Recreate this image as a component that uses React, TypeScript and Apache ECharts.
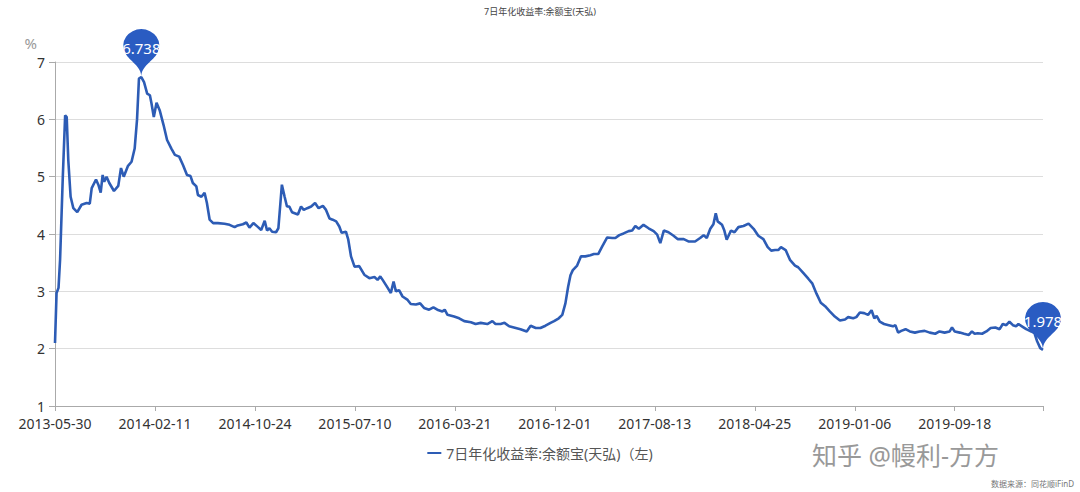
import React, { useEffect, useRef } from "react";
import * as echarts from "echarts";

// Tick labels every 256 trading-day units from 2013-05-30
const tickLabels = [
  "2013-05-30", "2014-02-11", "2014-10-24", "2015-07-10", "2016-03-21",
  "2016-12-01", "2017-08-13", "2018-04-25", "2019-01-06", "2019-09-18",
];
const TICK_STEP = 256;
const X_MAX = 2530;

const seriesName = "7日年化收益率:余额宝(天弘)（左)";
const titleText = "7日年化收益率:余额宝(天弘)";

// day index (axis units)
const dayIndex = [
  0, 4, 9, 13, 20, 26, 30, 34, 40, 47, 57, 68, 81, 89, 94, 105, 111, 117, 122, 126,
  132, 139, 151, 162, 169, 176, 187, 196, 204, 210, 215, 221, 228, 236, 243, 247, 253, 260, 268, 278,
  287, 298, 307, 318, 328, 338, 347, 353, 362, 366, 375, 383, 389, 396, 405, 417, 434, 447, 460, 468,
  481, 490, 498, 508, 520, 528, 537, 543, 549, 556, 566, 572, 581, 588, 594, 600, 607, 622, 630, 637,
  646, 656, 666, 675, 686, 694, 703, 711, 720, 728, 734, 745, 751, 758, 767, 779, 792, 805, 818, 826,
  833, 839, 852, 860, 867, 873, 881, 890, 903, 911, 924, 935, 945, 958, 969, 979, 992, 998, 1005, 1022,
  1035, 1048, 1065, 1077, 1090, 1107, 1120, 1128, 1141, 1151, 1163, 1175, 1192, 1208, 1218, 1231, 1243, 1256, 1269, 1278,
  1290, 1299, 1307, 1314, 1320, 1326, 1337, 1347, 1358, 1371, 1380, 1391, 1401, 1414, 1427, 1435, 1445, 1456, 1469, 1478,
  1486, 1495, 1507, 1520, 1533, 1542, 1550, 1559, 1571, 1584, 1595, 1610, 1622, 1639, 1652, 1661, 1669, 1678, 1686, 1692,
  1697, 1708, 1714, 1720, 1731, 1740, 1750, 1763, 1776, 1789, 1801, 1814, 1825, 1834, 1844, 1852, 1859, 1871, 1882, 1895,
  1903, 1916, 1929, 1939, 1950, 1961, 1972, 1984, 1997, 2010, 2023, 2031, 2044, 2052, 2061, 2072, 2082, 2091, 2098, 2104,
  2112, 2123, 2135, 2146, 2152, 2159, 2167, 2178, 2189, 2202, 2214, 2227, 2240, 2254, 2265, 2278, 2291, 2297, 2304, 2317,
  2328, 2340, 2348, 2355, 2363, 2374, 2385, 2396, 2408, 2419, 2427, 2436, 2444, 2453, 2461, 2467, 2476, 2487, 2500, 2508,
  2515, 2523, 2530,
];

// 7-day annualised yield (%)
const yieldValues = [
  2.10, 2.97, 3.06, 3.55, 5.00, 6.07, 6.04, 5.29, 4.65, 4.45, 4.38, 4.51, 4.54, 4.53, 4.80, 4.95, 4.86, 4.72, 5.03, 4.91,
  5.00, 4.89, 4.75, 4.84, 5.15, 5.00, 5.19, 5.26, 5.49, 5.99, 6.71, 6.738, 6.65, 6.45, 6.42, 6.28, 6.04, 6.29, 6.16, 5.90,
  5.64, 5.49, 5.38, 5.35, 5.20, 5.03, 5.01, 4.89, 4.83, 4.68, 4.65, 4.72, 4.54, 4.25, 4.19, 4.19, 4.18, 4.16, 4.12, 4.15,
  4.17, 4.20, 4.11, 4.19, 4.12, 4.07, 4.23, 4.06, 4.10, 4.04, 4.03, 4.10, 4.86, 4.65, 4.48, 4.48, 4.38, 4.34, 4.48, 4.42,
  4.45, 4.48, 4.54, 4.45, 4.49, 4.42, 4.27, 4.25, 4.22, 4.13, 4.02, 4.04, 3.90, 3.61, 3.43, 3.44, 3.29, 3.23, 3.25, 3.20,
  3.26, 3.20, 3.06, 2.97, 3.17, 3.00, 3.02, 2.91, 2.85, 2.78, 2.77, 2.79, 2.71, 2.68, 2.72, 2.68, 2.65, 2.68, 2.59, 2.56,
  2.53, 2.48, 2.46, 2.43, 2.45, 2.43, 2.48, 2.43, 2.43, 2.45, 2.39, 2.37, 2.34, 2.30, 2.40, 2.36, 2.36, 2.40, 2.45, 2.48,
  2.53, 2.59, 2.79, 3.08, 3.28, 3.37, 3.45, 3.61, 3.61, 3.63, 3.65, 3.65, 3.78, 3.94, 3.93, 3.93, 3.98, 4.01, 4.05, 4.06,
  4.14, 4.09, 4.16, 4.10, 4.05, 3.99, 3.84, 4.06, 4.03, 3.97, 3.91, 3.91, 3.87, 3.87, 3.93, 3.98, 3.93, 4.09, 4.17, 4.36,
  4.22, 4.16, 4.06, 3.90, 4.06, 4.03, 4.12, 4.14, 4.18, 4.09, 3.97, 3.91, 3.77, 3.71, 3.72, 3.72, 3.77, 3.72, 3.55, 3.45,
  3.42, 3.32, 3.22, 3.14, 2.96, 2.80, 2.74, 2.65, 2.56, 2.49, 2.51, 2.55, 2.53, 2.55, 2.63, 2.62, 2.59, 2.67, 2.53, 2.57,
  2.47, 2.43, 2.41, 2.39, 2.41, 2.28, 2.31, 2.34, 2.30, 2.28, 2.30, 2.31, 2.28, 2.26, 2.30, 2.28, 2.30, 2.37, 2.30, 2.28,
  2.26, 2.24, 2.30, 2.26, 2.27, 2.26, 2.30, 2.36, 2.37, 2.34, 2.43, 2.41, 2.47, 2.41, 2.39, 2.43, 2.39, 2.34, 2.30, 2.27,
  2.13, 2.01, 1.978,
];

const FONT = "'Noto Sans', 'Noto Sans CJK SC', sans-serif";

export default function App() {
  const ref = useRef<HTMLDivElement>(null);

  useEffect(() => {
    if (!ref.current) return;
    const chart = echarts.init(ref.current, undefined, { renderer: "svg" });
    const data = dayIndex.map((d, i) => [d, yieldValues[i]]);
    chart.setOption({
      animation: false,
      backgroundColor: "#ffffff",
      textStyle: { fontFamily: FONT },
      title: {
        text: titleText,
        left: "center",
        top: 2,
        textStyle: { fontSize: 9, fontWeight: "normal", color: "#444", fontFamily: FONT },
      },
      grid: { left: 55, right: 37, top: 62, bottom: 86 },
      legend: {
        data: [seriesName],
        top: 441,
        left: "center",
        icon: "rect",
        itemWidth: 14,
        itemHeight: 2,
        textStyle: { fontSize: 14, color: "#555", fontFamily: FONT },
      },
      xAxis: {
        type: "value",
        min: 0,
        max: X_MAX,
        interval: TICK_STEP,
        splitLine: { show: false },
        axisLine: { lineStyle: { color: "#aaa" } },
        axisTick: { show: true, length: 5, lineStyle: { color: "#aaa" } },
        axisLabel: {
          fontSize: 14,
          color: "#333",
          margin: 10,
          formatter: (v: number) =>
            v % TICK_STEP === 0 && tickLabels[v / TICK_STEP] ? tickLabels[v / TICK_STEP] : "",
        },
      },
      yAxis: {
        type: "value",
        min: 1,
        max: 7,
        interval: 1,
        name: "%",
        nameLocation: "end",
        nameGap: 12,
        nameTextStyle: { color: "#999", fontSize: 15, align: "right", padding: [0, 18, 0, 0] },
        axisLine: { show: true, lineStyle: { color: "#aaa" } },
        axisTick: { show: true, length: 6, lineStyle: { color: "#aaa" } },
        axisLabel: { fontSize: 14, color: "#333", margin: 10 },
        splitLine: { lineStyle: { color: "#ddd" } },
      },
      series: [
        {
          name: seriesName,
          type: "line",
          data,
          showSymbol: false,
          lineStyle: { color: "#2d5cb5", width: 2.6 },
          itemStyle: { color: "#2d5cb5" },
          markPoint: {
            symbol: "pin",
            symbolSize: [60, 55],
            itemStyle: { color: "#2a5cc2" },
            label: { color: "#fff", fontSize: 15, fontFamily: FONT },
            data: [
              { type: "max", name: "max" },
              { type: "min", name: "min" },
            ],
          },
        },
      ],
      graphic: [
        {
          type: "text",
          left: 812,
          top: 442,
          style: { text: "知乎 @幔利-方方", fontSize: 25, fill: "#999", fontFamily: FONT },
        },
        {
          type: "text",
          right: 6,
          top: 479,
          style: { text: "数据来源：同花顺iFinD", fontSize: 8, fill: "#777", fontFamily: FONT },
        },
      ],
    });
    return () => chart.dispose();
  }, []);

  return (
    <div
      ref={ref}
      style={{ position: "fixed", left: 0, top: 0, width: 1080, height: 492 }}
    />
  );
}
